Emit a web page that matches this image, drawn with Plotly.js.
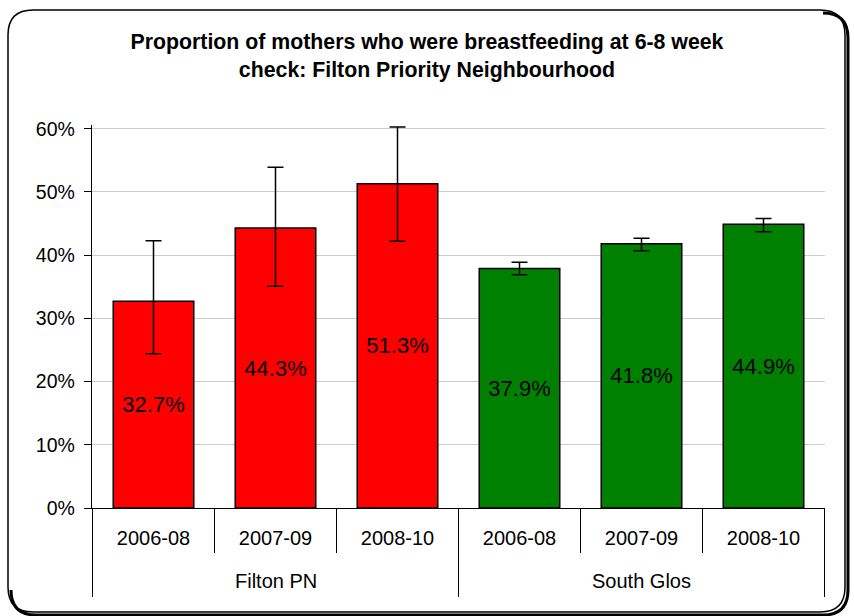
<!DOCTYPE html>
<html>
<head>
<meta charset="utf-8">
<script src="https://cdn.plot.ly/plotly-3.0.1.min.js"></script>
<style>html,body{margin:0;padding:0;background:#fff;}#chart{width:854px;height:616px;}</style>
</head>
<body>
<div id="chart"></div>
<script>
const groups = ['Filton PN','Filton PN','Filton PN','South Glos','South Glos','South Glos'];
const periods = ['2006-08','2007-09','2008-10','2006-08','2007-09','2008-10'];
const values = [32.7, 44.3, 51.3, 37.9, 41.8, 44.9];
const errUpper = [42.3, 53.9, 60.3, 38.9, 42.7, 45.8];
const errLower = [24.4, 35.1, 42.2, 36.9, 40.7, 43.7];
const barColors = ['#FF0000','#FF0000','#FF0000','#008000','#008000','#008000'];
const chartTitle = '<b>Proportion of mothers who were breastfeeding at 6-8 week<br>check: Filton Priority Neighbourhood</b>';

const FONT = 'Liberation Sans, Arial, sans-serif';
const keys = groups.map((g, i) => g + ' | ' + periods[i]);
const plus = values.map((v,i)=>+(errUpper[i]-v).toFixed(2));
const minus = values.map((v,i)=>+(v-errLower[i]).toFixed(2));

const trace = {
  type: 'bar',
  x: keys,
  y: values,
  cliponaxis: false,
  marker: {color: barColors, line: {color: '#000', width: 1.5}},
  text: values.map(v => v.toFixed(1) + '%'),
  textposition: 'inside',
  insidetextanchor: 'middle',
  constraintext: 'none',
  textfont: {family: FONT, size: 22, color: '#000'},
  error_y: {type: 'data', symmetric: false, array: plus, arrayminus: minus, color: '#000', thickness: 1.5, width: 8},
  hoverinfo: 'none'
};

// pixel helpers for paper units (plot area 92..825 x 125..508)
const W = 733, H = 383;
const px = v => (v - 92) / W;
const py = v => (508 - v) / H;

// dividers and group labels
const shapes = [];
const annotations = [];
const uniqueGroups = [...new Set(groups)];
for (let i = 0; i <= keys.length; i++) {
  const isGroupEdge = (i === 0 || i === keys.length || groups[i] !== groups[i-1]);
  shapes.push({type: 'line', xref: 'x', yref: 'paper', x0: i - 0.5, x1: i - 0.5, y0: 0, y1: isGroupEdge ? py(597) : py(553), line: {color: '#000', width: 1}});
}
uniqueGroups.forEach(g => {
  const idx = groups.map((gg, i) => gg === g ? i : -1).filter(i => i >= 0);
  const mid = (idx[0] + idx[idx.length-1]) / 2;
  annotations.push({xref: 'x', yref: 'paper', x: mid, y: py(581), yanchor: 'middle', text: g, showarrow: false, font: {family: FONT, size: 20, color: '#000'}});
});

// frame
const x0 = px(8), x1 = px(845), y0 = py(612), y1 = py(10);
const rx = 25 / W, ry = 25 / H;
const framePath = `M ${x0+rx},${y1} L ${x1-rx},${y1} Q ${x1},${y1} ${x1},${y1-ry} L ${x1},${y0+ry} Q ${x1},${y0} ${x1-rx},${y0} L ${x0+rx},${y0} Q ${x0},${y0} ${x0},${y0+ry} L ${x0},${y1-ry} Q ${x0},${y1} ${x0+rx},${y1} Z`;
const sx = 3 / W, sy = 3 / H;
const shadowPath = `M ${x1-rx+sx},${y1-sy} Q ${x1+sx},${y1-sy} ${x1+sx},${y1-ry-sy} L ${x1+sx},${y0+ry-sy} Q ${x1+sx},${y0-sy} ${x1-rx+sx},${y0-sy} L ${x0+rx+sx},${y0-sy} Q ${x0+sx},${y0-sy} ${x0+sx},${y0+ry-sy}`;
shapes.push({type: 'path', xref: 'paper', yref: 'paper', path: shadowPath, line: {color: '#000', width: 3}, layer: 'above'});
shapes.push({type: 'path', xref: 'paper', yref: 'paper', path: framePath, line: {color: '#000', width: 1.5}, layer: 'above'});

const layout = {
  width: 854, height: 616,
  margin: {l: 92, r: 29, t: 125, b: 108},
  paper_bgcolor: '#fff', plot_bgcolor: '#fff',
  showlegend: false,
  bargap: 0.34,
  title: {text: chartTitle, font: {family: FONT, size: 21.3, color: '#000'}, x: 0.5, xref: 'container', y: 0.92, yref: 'container', yanchor: 'middle'},
  xaxis: {
    type: 'category',
    categoryorder: 'array', categoryarray: keys,
    tickvals: keys, ticktext: periods,
    showline: true, linecolor: '#000', linewidth: 1.2,
    showgrid: false, ticks: '',
    ticklabelstandoff: 12,
    tickfont: {family: FONT, size: 20, color: '#000'}
  },
  yaxis: {
    range: [0, 60.6], tick0: 0, dtick: 10, ticksuffix: '%',
    showline: true, linecolor: '#000', linewidth: 1.2,
    ticks: 'outside', ticklen: 7, tickcolor: '#000',
    ticklabelstandoff: 5,
    showgrid: true, gridcolor: '#cccccc', gridwidth: 1,
    zeroline: false,
    tickfont: {family: FONT, size: 19.5, color: '#000'}
  },
  shapes: shapes,
  annotations: annotations
};

Plotly.newPlot('chart', [trace], layout, {staticPlot: true, displayModeBar: false});
</script>
</body>
</html>
